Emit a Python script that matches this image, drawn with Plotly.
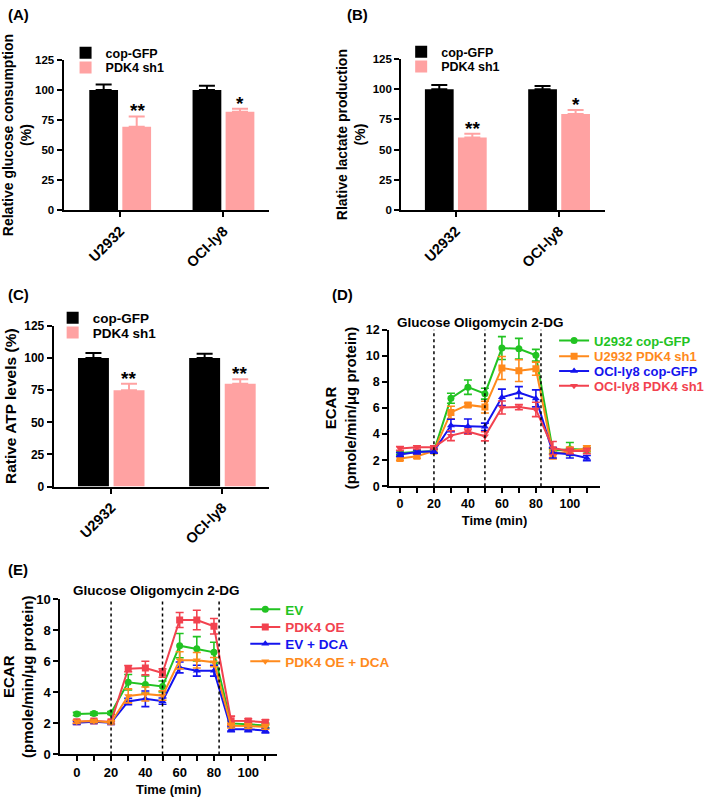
import plotly.graph_objects as go

# ---------------- data ----------------
cells = ["U2932", "OCI-ly8"]

glucose_gfp = [100, 100]
glucose_gfp_err = [4.5, 3.5]
glucose_sh1 = [69.5, 82]
glucose_sh1_err = [8.5, 2.5]
glucose_sig = ["**", "*"]

lactate_gfp = [100, 100]
lactate_gfp_err = [3.5, 2.6]
lactate_sh1 = [60, 79.5]
lactate_sh1_err = [3.2, 3.3]
lactate_sig = ["**", "*"]

atp_gfp = [100, 100]
atp_gfp_err = [3.9, 3.4]
atp_sh1 = [75, 80]
atp_sh1_err = [5, 3.6]
atp_sig = ["**", "**"]

time_min = [0, 10, 20, 30, 40, 50, 60, 70, 80, 90, 100, 110]
injection_times = [20, 50, 83]

# panel D
d_u_gfp = [2.55, 2.6, 2.7, 6.75, 7.6, 7.1, 10.6, 10.55, 10.05, 2.7, 2.85, 2.8]
d_u_gfp_err = [0.15, 0.15, 0.15, 0.38, 0.55, 0.42, 0.88, 0.8, 0.45, 0.2, 0.5, 0.15]
d_u_sh1 = [2.13, 2.3, 2.7, 5.66, 6.24, 6.07, 9.07, 8.87, 9.02, 2.45, 2.7, 2.9]
d_u_sh1_err = [0.15, 0.15, 0.15, 0.48, 0.15, 0.45, 0.88, 0.83, 0.5, 0.35, 0.3, 0.2]
d_o_gfp = [2.43, 2.63, 2.68, 4.66, 4.61, 4.56, 6.82, 7.19, 6.74, 2.56, 2.46, 2.16]
d_o_gfp_err = [0.15, 0.15, 0.15, 0.48, 0.55, 0.28, 0.63, 0.45, 0.65, 0.4, 0.3, 0.2]
d_o_sh1 = [2.9, 2.98, 2.98, 3.88, 4.19, 3.83, 6.04, 6.07, 5.89, 2.93, 2.7, 2.7]
d_o_sh1_err = [0.15, 0.12, 0.12, 0.38, 0.2, 0.35, 0.5, 0.2, 0.55, 0.5, 0.2, 0.2]

# panel E
e_ev = [2.61, 2.63, 2.67, 4.65, 4.5, 4.38, 7.0, 6.8, 6.57, 2.0, 1.94, 1.87]
e_ev_err = [0.1, 0.1, 0.1, 0.5, 0.55, 0.35, 0.78, 0.78, 0.65, 0.15, 0.15, 0.15]
e_oe = [2.1, 2.15, 2.1, 5.52, 5.56, 5.24, 8.65, 8.65, 8.25, 2.17, 2.15, 2.08]
e_oe_err = [0.1, 0.1, 0.1, 0.2, 0.44, 0.27, 0.48, 0.63, 0.5, 0.3, 0.15, 0.15]
e_dca = [2.04, 2.1, 2.04, 3.41, 3.58, 3.43, 5.6, 5.39, 5.39, 1.62, 1.62, 1.54]
e_dca_err = [0.1, 0.1, 0.1, 0.2, 0.5, 0.2, 0.35, 0.35, 0.35, 0.15, 0.15, 0.15]
e_oedca = [2.1, 2.15, 2.06, 3.77, 3.89, 3.79, 6.06, 6.06, 5.94, 1.85, 1.83, 1.77]
e_oedca_err = [0.1, 0.1, 0.1, 0.45, 0.45, 0.3, 0.55, 0.5, 0.3, 0.15, 0.15, 0.15]

# ---------------- style ----------------
W, H = 709, 804
FONT = "Arial"
BLACK = "#000000"
PINK = "#ffa2a2"
GREEN = "#22c322"
ORANGE = "#ff8a1c"
BLUE = "#1414ee"
RED = "#f2424f"


def dx(px):
    return px / W


def dy(py):
    return 1 - py / H


def bfont(size, color="black"):
    return dict(family=FONT, size=size, color=color, weight="bold")


fig = go.Figure()


def bar_panel(idx, gfp, gfp_err, sh1, sh1_err, sig, legends):
    ax = "" if idx == 1 else str(idx)
    for (name, vals, errs, col), lg in zip([("cop-GFP", gfp, gfp_err, BLACK),
                                            ("PDK4 sh1", sh1, sh1_err, PINK)], legends):
        fig.add_trace(go.Bar(
            x=cells, y=vals, name=name, marker=dict(color=col, line=dict(width=0)),
            error_y=dict(type="data", array=errs, arrayminus=[0] * len(errs),
                         symmetric=False, color=col, thickness=2, width=8),
            xaxis="x" + ax, yaxis="y" + ax, legend=lg))
    for c, v, e, s in zip(cells, sh1, sh1_err, sig):
        fig.add_annotation(x=c, y=v + e, xref="x" + ax, yref="y" + ax, text=s,
                           showarrow=False, xshift=17, yanchor="bottom", yshift=-7,
                           font=bfont(19))


bar_panel(1, glucose_gfp, glucose_gfp_err, glucose_sh1, glucose_sh1_err, glucose_sig,
          ["legend", "legend2"])
bar_panel(2, lactate_gfp, lactate_gfp_err, lactate_sh1, lactate_sh1_err, lactate_sig,
          ["legend3", "legend4"])
bar_panel(3, atp_gfp, atp_gfp_err, atp_sh1, atp_sh1_err, atp_sig,
          ["legend5", "legend6"])


def line_panel(idx, series, legends):
    ax = str(idx)
    for (name, vals, errs, col, sym), lg in zip(series, legends):
        fig.add_trace(go.Scatter(
            x=time_min, y=vals, mode="lines+markers",
            name="<span style='color:%s'>%s</span>" % (col, name),
            line=dict(color=col, width=2), marker=dict(color=col, symbol=sym, size=7),
            error_y=dict(type="data", array=errs, color=col, thickness=1.6, width=4),
            xaxis="x" + ax, yaxis="y" + ax, legend=lg))
    for t in injection_times:
        fig.add_shape(type="line", x0=t, x1=t, y0=0, y1=1, xref="x" + ax,
                      yref="y%s domain" % ax, line=dict(color="black", width=1.5, dash="dot"))


line_panel(4, [("U2932 cop-GFP", d_u_gfp, d_u_gfp_err, GREEN, "circle"),
               ("U2932 PDK4 sh1", d_u_sh1, d_u_sh1_err, ORANGE, "square"),
               ("OCI-ly8 cop-GFP", d_o_gfp, d_o_gfp_err, BLUE, "triangle-up"),
               ("OCI-ly8 PDK4 sh1", d_o_sh1, d_o_sh1_err, RED, "triangle-down")],
           ["legend7", "legend8", "legend9", "legend10"])
line_panel(5, [("EV", e_ev, e_ev_err, GREEN, "circle"),
               ("PDK4 OE", e_oe, e_oe_err, RED, "square"),
               ("EV + DCA", e_dca, e_dca_err, BLUE, "triangle-up"),
               ("PDK4 OE + DCA", e_oedca, e_oedca_err, ORANGE, "triangle-down")],
           ["legend11", "legend12", "legend13", "legend14"])


def axis_common(size):
    return dict(showline=True, linecolor="black", linewidth=2, ticks="outside",
                ticklen=5, tickwidth=2, tickcolor="black", showgrid=False, zeroline=False,
                tickfont=bfont(size), fixedrange=True)


def ytitle(text, size, standoff):
    return dict(text=text, font=bfont(size), standoff=standoff)


layout = dict(
    width=W, height=H, margin=dict(l=0, r=0, t=0, b=0),
    paper_bgcolor="white", plot_bgcolor="white",
    barmode="group", bargap=0.36, bargroupgap=0.13,
    showlegend=True, font=dict(family=FONT, color="black"),
)

cat_font = 14.5
# panel A
layout["xaxis"] = dict(axis_common(11.5), domain=[dx(60), dx(267)], anchor="y",
                       range=[-0.548, 1.442], type="category")
layout["xaxis"]["tickangle"] = -45
layout["xaxis"]["tickfont"] = bfont(cat_font)
layout["yaxis"] = dict(axis_common(11.5), domain=[dy(207), dy(54)], anchor="x",
                       range=[0, 125], dtick=25,
                       title=ytitle("Relative glucose consumption<br>(%)", 14, 4))
# panel B
layout["xaxis2"] = dict(axis_common(11.5), domain=[dx(400), dx(605)], anchor="y2",
                        range=[-0.529, 1.442], type="category")
layout["xaxis2"]["tickangle"] = -45
layout["xaxis2"]["tickfont"] = bfont(cat_font)
layout["yaxis2"] = dict(axis_common(11.5), domain=[dy(207), dy(53)], anchor="x2",
                        range=[0, 125], dtick=25,
                        title=ytitle("Rlative lactate production<br>(%)", 14, 4))
# panel C
layout["xaxis3"] = dict(axis_common(12), domain=[dx(50), dx(267)], anchor="y3",
                        range=[-0.518, 1.42], type="category")
layout["xaxis3"]["tickangle"] = -45
layout["xaxis3"]["tickfont"] = bfont(cat_font)
layout["yaxis3"] = dict(axis_common(12), domain=[dy(488.7), dy(325)], anchor="x3",
                        range=[0, 125], dtick=25,
                        title=ytitle("Rative ATP levels (%)", 15.5, 4))
# panel D
layout["xaxis4"] = dict(axis_common(12.5), domain=[dx(388), dx(600)], anchor="y4",
                        range=[-6.3, 117.6], dtick=20, tick0=0,
                        minor=dict(dtick=10, ticks="outside", ticklen=5, tickwidth=2,
                                   tickcolor="black"),
                        title=dict(text="Time (min)", standoff=6, font=bfont(13)))
layout["yaxis4"] = dict(axis_common(12.5), domain=[dy(488.3), dy(329)], anchor="x4",
                        range=[0, 12], dtick=2,
                        title=ytitle("ECAR<br>(pmole/min/μg protein)", 15, 6))
# panel E
layout["xaxis5"] = dict(axis_common(13), domain=[dx(56.7), dx(275)], anchor="y5",
                        range=[-9.6, 116.8], dtick=20, tick0=0,
                        minor=dict(dtick=10, ticks="outside", ticklen=5, tickwidth=2,
                                   tickcolor="black"),
                        title=dict(text="Time (min)", standoff=6, font=bfont(13)))
layout["yaxis5"] = dict(axis_common(13), domain=[dy(761.7), dy(603.3)], anchor="x5",
                        range=[0, 10], dtick=2,
                        title=ytitle("ECAR<br>(pmole/min/μg protein)", 15, 6))


def legend_at(px, py, size):
    return dict(x=dx(px), y=dy(py), xanchor="left", yanchor="middle",
                bgcolor="rgba(0,0,0,0)", borderwidth=0,
                font=bfont(size), itemclick=False, itemdoubleclick=False)


legend_rows = [
    ("legend", 62, 47, 12.5), ("legend2", 62, 62, 12.5),
    ("legend3", 400, 46, 12.5), ("legend4", 400, 61, 12.5),
    ("legend5", 49, 317, 13.5), ("legend6", 49, 332, 13.5),
    ("legend7", 554, 340, 13), ("legend8", 554, 356, 13),
    ("legend9", 554, 371, 13), ("legend10", 554, 386, 13),
    ("legend11", 243, 614, 13.5), ("legend12", 243, 632, 13.5),
    ("legend13", 243, 649, 13.5), ("legend14", 243, 667, 13.5),
]
for key, px, py, size in legend_rows:
    layout[key] = legend_at(px, py, size)

fig.update_layout(**layout)

# panel letters and injection headers
for label, px, py in [("(A)", 2, 8), ("(B)", 343, 8), ("(C)", 2, 293), ("(D)", 328, 293), ("(E)", 2, 573)]:
    fig.add_annotation(x=dx(px), y=dy(py), xref="paper", yref="paper", text=label,
                       showarrow=False, xanchor="left", yanchor="middle", font=bfont(15))
for px, py in [(480, 322), (154, 595)]:
    fig.add_annotation(x=dx(px), y=dy(py), xref="paper", yref="paper",
                       text="Glucose Oligomycin 2-DG", showarrow=False,
                       xanchor="center", yanchor="middle", font=bfont(13.5))

# remove the default page margin so the 709x804 figure fills the window exactly
fig.write_html("out.html", config={"displayModeBar": False},
               post_script="document.body.style.margin='0';"
                           "document.body.style.overflow='hidden';")
